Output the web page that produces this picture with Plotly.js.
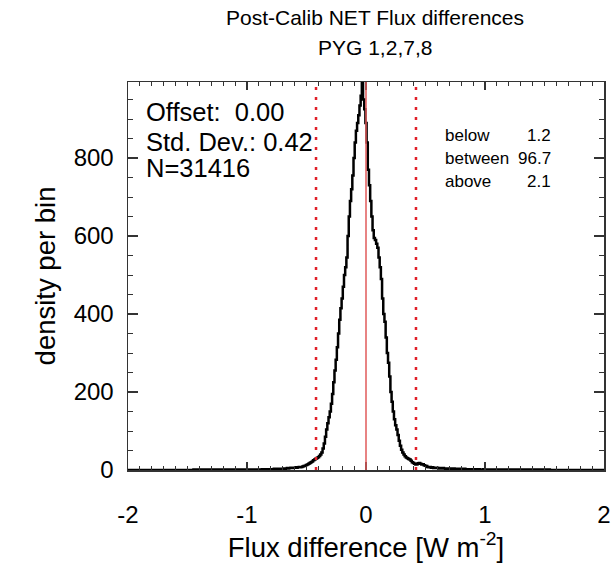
<!DOCTYPE html>
<html>
<head>
<meta charset="utf-8">
<script src="https://cdn.plot.ly/plotly-3.0.1.min.js"></script>
<style>html,body{margin:0;padding:0;background:#fff;}#chart{width:611px;height:571px;}</style>
</head>
<body>
<div id="chart"></div>
<script>
// Histogram of flux differences (W m^-2), bin width 0.01, bins centred from -0.90
const binWidth = 0.01;
const firstBinCenter = -0.90;
const counts = [
  1,0,1,2,1,1,2,1,2,2,
  2,1,2,3,2,2,3,2,3,3,
  3,4,3,4,5,4,5,6,5,6,
  6,7,6,7,8,7,8,9,10,11,
  13,14,16,18,20,22,25,27,29,31,
  33,36,40,45,55,68,85,104,120,135,
  150,170,195,225,255,283,315,350,385,415,
  440,470,500,520,545,600,650,690,720,755,
  800,840,870,890,910,935,960,994,950,925,
  890,840,770,730,690,650,615,595,590,580,
  570,545,520,490,440,400,380,340,300,275,
  240,200,175,150,130,115,104,90,75,62,
  52,45,40,35,32,30,28,27,24,20,
  18,16,14,15,17,18,16,14,15,12,
  11,10,8,7,8,6,7,5,6,5,
  6,5,4,5,4,5,4,3,4,4,
  3,4,3,3,4,3,2,3,3,2,
  3,2,2,3,2,2,1,2,2,1,
  2,1,2,1,1,2,1,1,1,2,
  1,1,0,1,1,0,1,1,0,1
];
const xRange = [-2, 2];
const yRange = [0, 995];
const xMajorStep = 1, xMinorStep = 0.1;
const yMajorStep = 200, yMinorStep = 50;
const xTickAlias = {'\u22122': '-2', '\u22121': '-1'};

const offsetVal = 0.00;
const stdDev = 0.42;
const nPoints = 31416;
const pctLabels = ['below', 'between', 'above'];
const pctValues = [1.2, 96.7, 2.1];

const titleLines = ['Post-Calib NET Flux differences', 'PYG 1,2,7,8'];

// build step line
const xs = [xRange[0]];
const ys = [0];
counts.forEach((c, i) => { xs.push(firstBinCenter + i * binWidth); ys.push(c); });
xs.push(xRange[1]); ys.push(0);

const FONT = 'Liberation Sans, Arial, Helvetica, sans-serif';

const traces = [{
  x: xs, y: ys, type: 'scatter', mode: 'lines',
  line: {color: '#000', width: 2.5, shape: 'hvh'},
  hoverinfo: 'skip', showlegend: false
}];

const shapes = [
  {type: 'line', xref: 'x', yref: 'paper', x0: offsetVal, x1: offsetVal, y0: 0, y1: 1,
   line: {color: '#e05a5a', width: 1.5}},
  {type: 'line', xref: 'x', yref: 'paper', x0: offsetVal - stdDev, x1: offsetVal - stdDev, y0: 0, y1: 1,
   line: {color: '#e0202a', width: 2.5, dash: '3px,7px'}},
  {type: 'line', xref: 'x', yref: 'paper', x0: offsetVal + stdDev, x1: offsetVal + stdDev, y0: 0, y1: 1,
   line: {color: '#e0202a', width: 2.5, dash: '3px,7px'}}
];

const annotations = [];
// title lines
const titleY = [1.165, 1.088];
titleLines.forEach((t, i) => annotations.push({
  xref: 'paper', yref: 'paper', x: 0.519, y: titleY[i], xanchor: 'center', yanchor: 'middle',
  text: t, showarrow: false, font: {family: FONT, size: 21, color: '#000'}
}));

const leftTexts = [
  'Offset:\u00a0 ' + offsetVal.toFixed(2),
  'Std. Dev.: ' + stdDev.toFixed(2),
  'N=' + nPoints
];
const leftY = [0.923, 0.845, 0.778];
leftTexts.forEach((t, i) => annotations.push({
  xref: 'paper', yref: 'paper', x: 0.033, y: leftY[i], xanchor: 'left', yanchor: 'middle',
  text: t, showarrow: false, font: {family: FONT, size: 25.5, color: '#000'}
}));
const rightY = [0.863, 0.804, 0.743];
pctLabels.forEach((t, i) => {
  annotations.push({
    xref: 'paper', yref: 'paper', x: 0.662, y: rightY[i], xanchor: 'left', yanchor: 'middle',
    text: t, showarrow: false, font: {family: FONT, size: 17, color: '#000'}
  });
  annotations.push({
    xref: 'paper', yref: 'paper', x: 0.893, y: rightY[i], xanchor: 'right', yanchor: 'middle',
    text: pctValues[i].toFixed(1), showarrow: false, font: {family: FONT, size: 17, color: '#000'}
  });
});

const layout = {
  width: 611, height: 571,
  margin: {l: 128, r: 7, t: 82, b: 101},
  paper_bgcolor: '#fff', plot_bgcolor: '#fff',
  font: {family: FONT, color: '#000'},
  xaxis: {
    range: xRange, tickmode: 'linear', tick0: xRange[0], dtick: xMajorStep,
    labelalias: xTickAlias,
    showgrid: false, zeroline: false,
    showline: true, linecolor: '#333', linewidth: 1.5, mirror: 'allticks',
    ticks: 'inside', ticklen: 8, tickcolor: '#333', tickwidth: 1.2,
    minor: {dtick: xMinorStep, ticks: 'inside', ticklen: 4, tickcolor: '#333', tickwidth: 1, showgrid: false},
    tickfont: {family: FONT, size: 24, color: '#000'},
    ticklabelstandoff: 23,
    title: {text: 'Flux difference [W m<sup>-2</sup>]', font: {family: FONT, size: 27.5, color: '#000'}, standoff: 8}
  },
  yaxis: {
    range: yRange, tickmode: 'linear', tick0: 0, dtick: yMajorStep,
    showgrid: false, zeroline: false,
    showline: true, linecolor: '#333', linewidth: 1.5, mirror: 'allticks',
    ticks: 'inside', ticklen: 10, tickcolor: '#333', tickwidth: 1.2,
    minor: {dtick: yMinorStep, ticks: 'inside', ticklen: 5, tickcolor: '#333', tickwidth: 1, showgrid: false},
    tickfont: {family: FONT, size: 24, color: '#000'},
    ticklabelstandoff: 8,
    title: {text: 'density per bin', font: {family: FONT, size: 27.5, color: '#000'}, standoff: 10}
  },
  shapes: shapes,
  annotations: annotations,
  showlegend: false
};

Plotly.newPlot('chart', traces, layout, {displayModeBar: false, staticPlot: true});
</script>
</body>
</html>
